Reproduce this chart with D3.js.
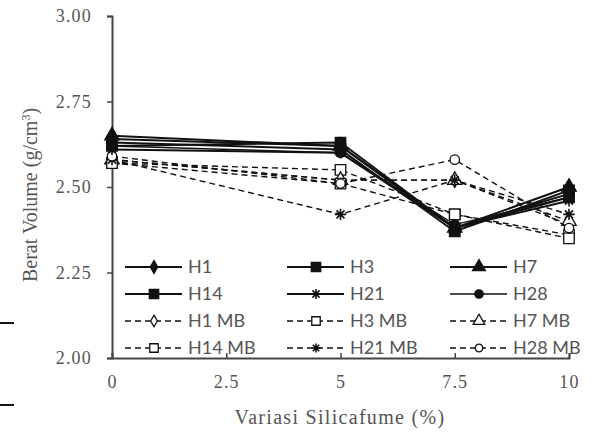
<!DOCTYPE html>
<html>
<head>
<meta charset="utf-8">
<script src="https://cdn.jsdelivr.net/npm/d3@7"></script>
<style>
  body { margin: 0; background: #fff; }
  .axis path, .axis line { stroke: #444; }
</style>
</head>
<body>
<div id="chart"></div>
<script>
// data
var xValues = [0, 5, 7.5, 10];
var xTicks = [0, 2.5, 5, 7.5, 10];
var yTicks = [2.00, 2.25, 2.50, 2.75, 3.00];

var seriesNames = ["H1", "H3", "H7", "H14", "H21", "H28",
                   "H1 MB", "H3 MB", "H7 MB", "H14 MB", "H21 MB", "H28 MB"];

var H1    = [2.64, 2.62, 2.38, 2.48];
var H3    = [2.62, 2.63, 2.38, 2.47];
var H7    = [2.65, 2.62, 2.38, 2.50];
var H14   = [2.63, 2.61, 2.37, 2.49];
var H21   = [2.61, 2.60, 2.38, 2.46];
var H28   = [2.62, 2.60, 2.39, 2.47];
var H1MB  = [2.58, 2.52, 2.52, 2.39];
var H3MB  = [2.57, 2.55, 2.42, 2.36];
var H7MB  = [2.58, 2.52, 2.52, 2.40];
var H14MB = [2.57, 2.51, 2.42, 2.35];
var H21MB = [2.58, 2.42, 2.52, 2.42];
var H28MB = [2.59, 2.51, 2.58, 2.38];

var seriesValues = [H1, H3, H7, H14, H21, H28, H1MB, H3MB, H7MB, H14MB, H21MB, H28MB];

// marker styles, one per series
var markers = ["diamond", "square", "triangle", "square", "star", "circle",
               "diamond", "square", "triangle", "square", "star", "circle"];

var serif = "'Liberation Serif', 'Times New Roman', 'DejaVu Serif', serif";
var sans = "Lato, 'Open Sans', sans-serif";

var margin = { top: 16, right: 26, bottom: 78, left: 112 };
var width = 595 - margin.left - margin.right,
    height = 436 - margin.top - margin.bottom;

var svg = d3.select("#chart").append("svg")
    .attr("width", 595)
    .attr("height", 436);

var g = svg.append("g")
    .attr("transform", "translate(" + margin.left + "," + margin.top + ")");

var x = d3.scaleLinear().domain([0, 10]).range([0, width]);
var y = d3.scaleLinear().domain([2, 3]).range([height, 0]);

// axes
var yAxis = d3.axisLeft(y).tickValues(yTicks).tickFormat(d3.format(".2f")).tickSize(5).tickPadding(15);
var xAxis = d3.axisBottom(x).tickValues(xTicks).tickFormat(d => d).tickSize(-5).tickPadding(17);

function styleAxis(a) {
    a.attr("font-family", serif).attr("font-size", 18);
    a.select(".domain").attr("stroke-width", 2);
    a.selectAll("line").attr("stroke-width", 1.5);
    a.selectAll("text").attr("fill", "#555").attr("letter-spacing", "1.2px");
}

g.append("g").attr("class", "y-axis axis").call(yAxis).call(styleAxis);

g.append("g").attr("class", "x-axis axis")
    .attr("transform", "translate(0," + height + ")")
    .call(xAxis).call(styleAxis);

// axis titles
svg.append("text")
    .attr("x", 340).attr("y", 424)
    .attr("text-anchor", "middle")
    .attr("font-family", serif)
    .attr("font-size", 20).attr("fill", "#555")
    .attr("letter-spacing", "1.3px")
    .text("Variasi Silicafume (%)");

var yt = svg.append("text")
    .attr("transform", "translate(37,195) rotate(-90)")
    .attr("text-anchor", "middle")
    .attr("font-family", serif)
    .attr("font-size", 20).attr("fill", "#555");
yt.append("tspan").text("Berat Volume (g/cm");
yt.append("tspan").attr("baseline-shift", "super").attr("font-size", 12).text("3");
yt.append("tspan").text(")");

// stray marks on the left edge of the scan
svg.append("line").attr("x1", 0).attr("x2", 14).attr("y1", 323).attr("y2", 323)
    .attr("stroke", "#111").attr("stroke-width", 2);
svg.append("line").attr("x1", 0).attr("x2", 14).attr("y1", 405).attr("y2", 405)
    .attr("stroke", "#111").attr("stroke-width", 2);

function symbolPath(type, size) {
    var t = { diamond: d3.symbolDiamond, square: d3.symbolSquare, triangle: d3.symbolTriangle,
              circle: d3.symbolCircle };
    if (type === "star") {
        var r = Math.sqrt(size) / 2;
        return "M" + (-r) + ",0L" + r + ",0M" + (-r * 0.7) + "," + (-r * 0.7) + "L" + (r * 0.7) + "," + (r * 0.7) +
               "M" + (-r * 0.7) + "," + (r * 0.7) + "L" + (r * 0.7) + "," + (-r * 0.7) + "M0," + (-r) + "L0," + r;
    }
    return d3.symbol().type(t[type]).size(size)();
}

function markerSize(type) {
    if (type === "square") return 110;
    if (type === "diamond") return 60;
    if (type === "triangle") return 90;
    if (type === "circle") return 70;
    return 130;
}

var line = d3.line()
    .x((d, i) => x(xValues[i]))
    .y(d => y(d));

// dashed series first, then solid on top
var order = [6, 7, 8, 9, 10, 11, 0, 1, 2, 3, 4, 5];
order.forEach(function(k) {
    var dashed = k >= 6;
    var vals = seriesValues[k];
    g.append("path")
        .datum(vals)
        .attr("fill", "none")
        .attr("stroke", "#111")
        .attr("stroke-width", dashed ? 1.4 : (k === 5 ? 1.4 : 2))
        .attr("stroke-dasharray", dashed ? "6,4" : null)
        .attr("d", line);

    g.selectAll(".m" + k)
        .data(vals)
        .enter().append("path")
        .attr("class", "m" + k)
        .attr("transform", (d, i) => "translate(" + x(xValues[i]) + "," + y(d) + ")")
        .attr("d", symbolPath(markers[k], markerSize(markers[k])))
        .attr("fill", dashed && markers[k] !== "star" ? "#fff" : "#111")
        .attr("stroke", "#111")
        .attr("stroke-width", markers[k] === "star" ? 1.6 : 1.3);
});

// legend, 3 columns x 4 rows
var legCols = [125, 287, 450];
var legRows = [267, 294, 321, 348];
var legend = svg.append("g").attr("class", "legend");

seriesNames.forEach(function(name, k) {
    var cx = legCols[k % 3], cy = legRows[Math.floor(k / 3)];
    var dashed = k >= 6;
    var lg = legend.append("g").attr("transform", "translate(" + cx + "," + cy + ")");
    lg.append("line")
        .attr("x1", 0).attr("x2", 57).attr("y1", 0).attr("y2", 0)
        .attr("stroke", "#111")
        .attr("stroke-width", dashed ? 1.4 : (k === 5 ? 1.4 : 2))
        .attr("stroke-dasharray", dashed ? "6,4" : null);
    var s = markers[k];
    lg.append("path")
        .attr("transform", "translate(29,0)")
        .attr("d", symbolPath(s, markerSize(s) * (dashed ? 0.65 : 0.8)))
        .attr("fill", dashed && s !== "star" ? "#fff" : "#111")
        .attr("stroke", "#111")
        .attr("stroke-width", s === "star" ? 1.6 : 1.3);
    lg.append("text")
        .attr("x", 63).attr("y", 6)
        .attr("font-family", sans)
        .attr("font-size", 18).attr("fill", "#555")
        .text(name);
});
</script>
</body>
</html>
